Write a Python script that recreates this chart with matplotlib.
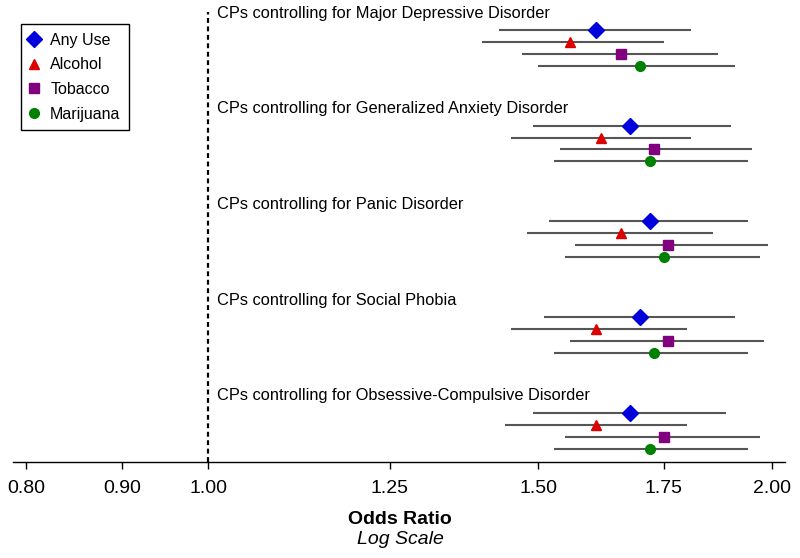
import matplotlib
matplotlib.use("Agg")
import matplotlib.pyplot as plt
from matplotlib.lines import Line2D
from matplotlib.ticker import FixedLocator, NullLocator

plt.rcParams['font.family'] = ['Liberation Sans', 'DejaVu Sans']

groups = [
    "CPs controlling for Major Depressive Disorder",
    "CPs controlling for Generalized Anxiety Disorder",
    "CPs controlling for Panic Disorder",
    "CPs controlling for Social Phobia",
    "CPs controlling for Obsessive-Compulsive Disorder",
]
series = ["Any Use", "Alcohol", "Tobacco", "Marijuana"]

# odds ratios per group, order: Any Use, Alcohol, Tobacco, Marijuana
or_any  = [1.61, 1.68, 1.72, 1.70, 1.68]
lo_any  = [1.43, 1.49, 1.52, 1.51, 1.49]
hi_any  = [1.81, 1.90, 1.94, 1.91, 1.89]

or_alc  = [1.56, 1.62, 1.66, 1.61, 1.61]
lo_alc  = [1.40, 1.45, 1.48, 1.45, 1.44]
hi_alc  = [1.75, 1.81, 1.86, 1.80, 1.80]

or_tob  = [1.66, 1.73, 1.76, 1.76, 1.75]
lo_tob  = [1.47, 1.54, 1.57, 1.56, 1.55]
hi_tob  = [1.87, 1.95, 1.99, 1.98, 1.97]

or_mar  = [1.70, 1.72, 1.75, 1.73, 1.72]
lo_mar  = [1.50, 1.53, 1.55, 1.53, 1.53]
hi_mar  = [1.91, 1.94, 1.97, 1.94, 1.94]

tick_vals = [0.80, 0.90, 1.00, 1.25, 1.50, 1.75, 2.00]
tick_labels = ["0.80", "0.90", "1.00", "1.25", "1.50", "1.75", "2.00"]

all_or = [or_any, or_alc, or_tob, or_mar]
all_lo = [lo_any, lo_alc, lo_tob, lo_mar]
all_hi = [hi_any, hi_alc, hi_tob, hi_mar]
colors = ["#0000DD", "#DD0000", "#800080", "#008000"]
markers = ["D", "^", "s", "o"]
msizes = [8, 7.5, 6.5, 7]

fig = plt.figure(figsize=(8, 5.58), dpi=100)
ax = fig.add_axes([0.0167, 0.1726, 0.9646, 0.806])
ax.set_xscale('log')

for g in range(len(groups)):
    for s in range(len(series)):
        y = g * 8 + s
        ax.plot([all_lo[s][g], all_hi[s][g]], [y, y], color="#555555", lw=1.5,
                solid_capstyle='butt', zorder=2)
        ax.plot(all_or[s][g], y, marker=markers[s], color=colors[s],
                markersize=msizes[s], linestyle='none', zorder=3)
    ax.text(1.011, g * 8 - 1.4, groups[g], fontsize=11.8, va='center', ha='left')

ax.axvline(1.0, color='black', lw=1.6, linestyle=(0, (2.2, 1.6)), zorder=1)

ax.set_xlim(0.7873, 2.0314)
ax.set_ylim(36.1, -1.5)
ax.xaxis.set_major_locator(FixedLocator(tick_vals))
ax.xaxis.set_minor_locator(NullLocator())
ax.set_xticklabels(tick_labels, fontsize=14)
ax.set_yticks([])
for sp in ['top', 'left', 'right']:
    ax.spines[sp].set_visible(False)
ax.spines['bottom'].set_linewidth(1.0)
ax.tick_params(axis='x', length=5, width=1, pad=8)

fig.text(0.5, 1 - 519 / 558, "Odds Ratio", fontsize=14, fontweight='bold',
         ha='center', va='center')
fig.text(0.5, 1 - 540 / 558, "Log Scale", fontsize=14, fontstyle='italic',
         ha='center', va='center')

handles = [Line2D([], [], marker=markers[i], color=colors[i], linestyle='none',
                  markersize=msizes[i]) for i in range(4)]
leg = ax.legend(handles, series, loc='upper left',
                bbox_to_anchor=(20.7 / 800, 1 - 24 / 558),
                bbox_transform=fig.transFigure, frameon=True, fancybox=False,
                edgecolor='black', framealpha=1, fontsize=11.5,
                handlelength=0.6, handletextpad=0.7, borderpad=0.55,
                labelspacing=0.6, borderaxespad=0)
leg.get_frame().set_linewidth(1.0)

fig.savefig("out.png", dpi=100)
